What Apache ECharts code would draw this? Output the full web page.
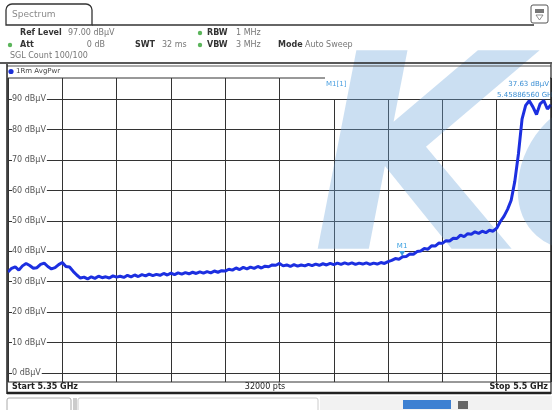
<!DOCTYPE html>
<html><head><meta charset="utf-8">
<script src="https://cdn.jsdelivr.net/npm/echarts@6/dist/echarts.min.js"></script>
<style>html,body{margin:0;padding:0;background:#fff}#c{width:552px;height:410px}</style>
</head><body><div id="c"></div>
<script>
// ---- data ----
const startGHz = 5.35;
const stopGHz = 5.5;
const spanMHz = 150;          // x axis runs 0..150 MHz from the start frequency
const stepMHz = 1;            // spacing of the level samples below
const xGridMHz = 15;          // 10 divisions
const yMin = -3, yMax = 97;   // ref level 97 dBµV, 10 dB/div
const yTicks = [0, 10, 20, 30, 40, 50, 60, 70, 80, 90];
const levels = [
  33.2,34.4,34.9,33.8,35.2,36.0,35.3,34.4,34.6,35.7,
  36.1,35.0,34.2,34.6,35.6,36.3,35.0,34.8,33.4,32.2,
  31.2,31.5,30.9,31.6,31.1,31.8,31.3,31.6,31.2,31.9,
  31.5,31.8,31.4,32.1,31.6,32.2,31.7,32.3,31.9,32.5,
  32.0,32.4,32.1,32.7,32.2,32.8,32.3,32.9,32.5,33.0,
  32.6,33.1,32.7,33.2,32.8,33.3,32.9,33.5,33.1,33.6,
  33.5,34.1,33.8,34.5,34.0,34.7,34.2,34.8,34.4,35.0,
  34.5,35.1,34.9,35.5,35.4,36.0,35.2,35.5,35.0,35.6,
  35.1,35.5,35.2,35.7,35.3,35.8,35.4,35.9,35.5,36.0,
  35.6,36.1,35.7,36.2,35.8,36.2,35.7,36.1,35.8,36.2,
  35.7,36.1,35.8,36.3,36.0,36.6,37.0,37.6,37.4,38.2,
  38.3,39.1,39.0,39.9,40.1,40.9,40.7,41.8,41.7,42.7,
  42.6,43.5,43.4,44.3,44.2,45.3,44.8,45.8,45.6,46.4,
  45.9,46.6,46.1,46.9,46.6,47.6,49.8,51.5,53.8,56.8,
  63.0,72.0,83.5,88.0,89.5,87.5,85.0,88.5,89.6,86.8,
  88.2
];
const markerFreqGHz = 5.4588656;
const markerLevel = 37.63;

// ---- chart ----
const FF = '"DejaVu Sans", sans-serif';
const seriesData = levels.map((v, i) => [i * stepMHz, v]);
const markerX = (markerFreqGHz - startGHz) * 1000;

function txt(x, y, text, o) {
  o = o || {};
  return { type: 'text', z: o.z || 20, style: {
    x: x, y: y, text: text, fill: o.color || '#777',
    font: (o.bold ? 'bold ' : '') + (o.size || 8) + 'px ' + FF,
    align: o.align || 'left', verticalAlign: 'middle' } };
}
function ln(x1, y1, x2, y2, w, c, z) {
  return { type: 'line', z: z || 20, shape: { x1, y1, x2, y2 }, style: { stroke: c || '#222', lineWidth: w || 1 } };
}
function dot(x, y, r, c) {
  return { type: 'circle', z: 20, shape: { cx: x, cy: y, r: r }, style: { fill: c } };
}

const graphics = [
  // tab
  { type: 'rect', z: 20, shape: { x: 6, y: 4, width: 86, height: 21, r: [6, 6, 0, 0] }, style: { fill: '#fff', stroke: '#333', lineWidth: 1.3 } },
  txt(12, 15, 'Spectrum', { size: 9, color: '#8a8a8a' }),
  ln(92, 25, 534, 25, 1.3, '#333'),
  { type: 'rect', z: 20, shape: { x: 531, y: 5, width: 17, height: 18, r: 2 }, style: { fill: '#fff', stroke: '#555', lineWidth: 1 } },
  { type: 'rect', z: 21, shape: { x: 535, y: 9, width: 9, height: 4 }, style: { fill: '#777' } },
  { type: 'polygon', z: 21, shape: { points: [[536, 15], [543, 15], [539.5, 20]] }, style: { fill: 'none', stroke: '#777', lineWidth: 0.8 } },
  // setting rows
  txt(20, 33, 'Ref Level', { bold: true, color: '#333' }),
  txt(68, 33, '97.00 dBµV', {}),
  dot(200, 33, 2.2, '#5bb55b'),
  txt(207, 33, 'RBW', { bold: true, color: '#333' }),
  txt(236, 33, '1 MHz', {}),
  dot(10, 45, 2.2, '#5bb55b'),
  txt(20, 45, 'Att', { bold: true, color: '#333' }),
  txt(105, 45, '0 dB', { align: 'right' }),
  txt(135, 45, 'SWT', { bold: true, color: '#333' }),
  txt(162, 45, '32 ms', {}),
  dot(200, 45, 2.2, '#5bb55b'),
  txt(207, 45, 'VBW', { bold: true, color: '#333' }),
  txt(236, 45, '3 MHz', {}),
  txt(278, 45, 'Mode', { bold: true, color: '#333' }),
  txt(305, 45, 'Auto Sweep', {}),
  txt(10, 56, 'SGL Count 100/100', {}),
  ln(0, 63, 552, 63, 1.5, '#222'),
  // trace header row
  ln(7, 66, 551, 66, 1, '#555'),
  ln(7, 64, 7, 394, 1.5, '#222'),
  ln(551, 64, 551, 394, 1.2, '#222'),
  dot(11, 71.5, 2.6, '#1c2fd6'),
  txt(16, 71.5, '1Rm AvgPwr', { size: 7, color: '#444' }),
  // marker info box
  { type: 'rect', z: 6, shape: { x: 325, y: 77, width: 225, height: 22 }, style: { fill: '#fff' } },
  txt(326, 84, 'M1[1]', { size: 7, color: '#4a9fe0', z: 7 }),
  txt(549, 84, markerLevel.toFixed(2) + ' dBµV', { size: 7, color: '#3b8fd4', align: 'right', z: 7 }),
  txt(556, 95, markerFreqGHz.toFixed(8) + ' GHz', { size: 7, color: '#3b8fd4', align: 'right', z: 7 }),
  // footer
  txt(12, 387, 'Start ' + startGHz + ' GHz', { bold: true, color: '#222' }),
  txt(265, 387, '32000 pts', { color: '#222', align: 'center' }),
  txt(548, 387, 'Stop ' + stopGHz + ' GHz', { bold: true, color: '#222', align: 'right' }),
  ln(7, 393, 551, 393, 2.5, '#222'),
  // status strip
  { type: 'rect', z: 20, shape: { x: 7, y: 398, width: 64, height: 14, r: 2 }, style: { fill: '#fff', stroke: '#aaa', lineWidth: 1 } },
  ln(74, 398, 74, 410, 1, '#999'),
  ln(76, 398, 76, 410, 1, '#999'),
  { type: 'rect', z: 20, shape: { x: 78, y: 398, width: 240, height: 14, r: 2 }, style: { fill: '#fff', stroke: '#ccc', lineWidth: 1 } },
  { type: 'rect', z: 19, shape: { x: 320, y: 396, width: 232, height: 14 }, style: { fill: '#f2f2f2' } },
  { type: 'rect', z: 20, shape: { x: 403, y: 400, width: 48, height: 9 }, style: { fill: '#3d80d2' } },
  { type: 'rect', z: 20, shape: { x: 458, y: 401, width: 10, height: 8 }, style: { fill: '#666' } },
  // watermark
  { type: 'text', z: 8, style: { x: 312, y: 178, text: 'Ko', font: 'italic bold 272px "DejaVu Sans"', fill: 'rgba(110,165,220,0.36)', verticalAlign: 'middle' } }
];

const chart = echarts.init(document.getElementById('c'), null, { renderer: 'canvas' });
chart.setOption({
  animation: false,
  backgroundColor: '#fff',
  grid: { left: 8, right: 1, top: 78, height: 304, show: true, borderColor: '#333', borderWidth: 1, backgroundColor: 'transparent' },
  xAxis: {
    type: 'value', min: 0, max: spanMHz, interval: xGridMHz,
    axisLine: { show: false }, axisTick: { show: false }, axisLabel: { show: false },
    splitLine: { show: true, lineStyle: { color: '#333', width: 1 } }
  },
  yAxis: {
    type: 'value', min: yMin, max: yMax,
    axisLine: { show: false },
    axisTick: { show: false, customValues: yTicks },
    axisLabel: { customValues: yTicks, inside: true, margin: 4, formatter: v => v + ' dBµV',
      color: '#555', fontSize: 8, fontFamily: FF, backgroundColor: '#fff', padding: [0, 1, 0, 0] },
    splitLine: { show: true, lineStyle: { color: '#333', width: 1 } }
  },
  series: [{
    type: 'line', z: 10, showSymbol: false, data: seriesData,
    lineStyle: { color: '#1c2fe0', width: 3 },
    markPoint: {
      symbol: 'triangle', symbolSize: [6, 5], symbolRotate: 180, symbolOffset: [0, -5],
      itemStyle: { color: '#3aa0e0' },
      label: { show: true, position: 'top', distance: 1, formatter: 'M1', fontSize: 7, color: '#3aa0e0', fontFamily: FF },
      data: [{ coord: [markerX, markerLevel] }]
    }
  }],
  graphic: graphics
});
</script></body></html>
